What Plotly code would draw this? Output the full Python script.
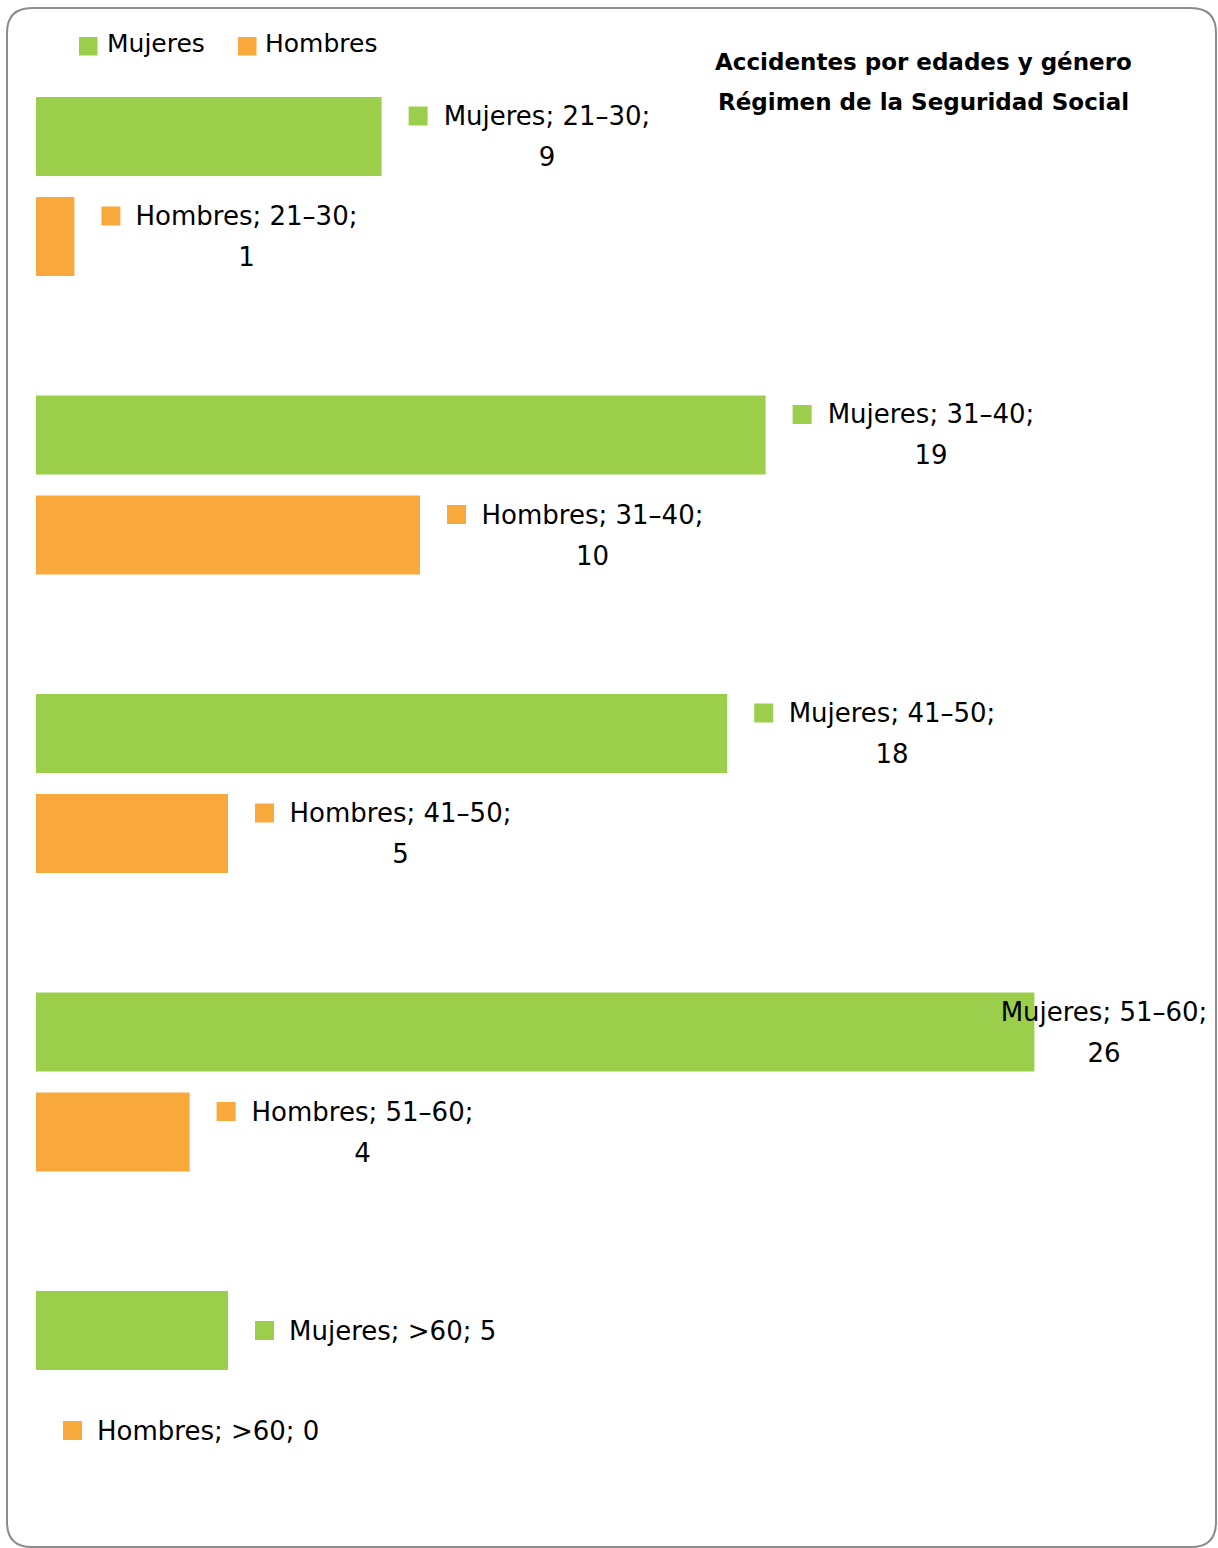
import plotly.graph_objects as go

# ---------------- data ----------------
categories = ["21–30", "31–40", "41–50", "51–60", ">60"]
mujeres = [9, 19, 18, 26, 5]
hombres = [1, 10, 5, 4, 0]
series_names = ["Mujeres", "Hombres"]
title_lines = ["Accidentes por edades y género", "Régimen de la Seguridad Social"]

# ---------------- style ----------------
GREEN = "#9BCF4B"
ORANGE = "#F9A83B"
COLORS = [GREEN, ORANGE]
W, H = 1218, 1548
PLOT_LEFT = 36
X_SCALE = 38.4                      # pixels per unit
XMAX = (W - PLOT_LEFT) / X_SCALE
Y_TOP, Y_BOTTOM = 37.25, 1529.75    # plot area in pixels
FONT = "DejaVu Sans"
LABEL_SIZE = 26
LABEL_W = {"Mujeres": 208, "Hombres": 223}
RIGHT_LIMIT = 1208


def px(x):
    return x / W


def py(y):
    return 1 - y / H


fig = go.Figure()
series_vals = [mujeres, hombres]
for name, vals, col in zip(series_names, series_vals, COLORS):
    fig.add_trace(go.Bar(
        y=categories, x=vals, name=name, orientation="h",
        marker=dict(color=col, line=dict(width=0)),
        showlegend=False,
    ))

# ---------------- data labels ----------------
for s, (name, vals, col) in enumerate(zip(series_names, series_vals, COLORS)):
    trace_shift = 50 if s == 0 else -50
    for i, (cat, v) in enumerate(zip(categories, vals)):
        bar_px = PLOT_LEFT + v * X_SCALE
        wrap = len(cat) > 3
        line1 = f"{name}; {cat};" if wrap else f"{name}; {cat}; {v}"
        text_dx = 61
        if wrap:
            over = bar_px + text_dx + LABEL_W[name] - RIGHT_LIMIT
            if over > 0:
                text_dx -= over
        sq_dx = text_dx - 34
        y_line1 = trace_shift + (20.5 if wrap else 0)
        fig.add_shape(
            type="rect", xref="x", yref="y",
            xsizemode="pixel", ysizemode="pixel",
            xanchor=v, yanchor=i,
            x0=sq_dx, x1=sq_dx + 19, y0=y_line1 - 9.5, y1=y_line1 + 9.5,
            fillcolor=col, line=dict(width=0), layer="above",
        )
        font = dict(family=FONT, size=LABEL_SIZE, color="#000000")
        if wrap:
            for txt, ys in [(line1, y_line1), (str(v), trace_shift - 20.5)]:
                fig.add_annotation(
                    x=v, y=i, xref="x", yref="y", text=txt, showarrow=False,
                    xanchor="left", yanchor="middle", xshift=text_dx, yshift=ys,
                    width=LABEL_W[name], align="center", borderpad=0,
                    borderwidth=0, font=font,
                )
        else:
            fig.add_annotation(
                x=v, y=i, xref="x", yref="y", text=line1, showarrow=False,
                xanchor="left", yanchor="middle", xshift=text_dx, yshift=y_line1,
                borderpad=0, borderwidth=0, font=font,
            )

# ---------------- legend (manual) ----------------
legend_items = [(79, 107), (238, 265)]
for (sq_x, tx), name, col in zip(legend_items, series_names, COLORS):
    fig.add_shape(type="rect", xref="paper", yref="paper",
                  x0=px(sq_x), x1=px(sq_x + 18.5), y0=py(55.5), y1=py(37),
                  fillcolor=col, line=dict(width=0))
    fig.add_annotation(x=px(tx), y=py(44), xref="paper", yref="paper",
                       text=name, showarrow=False, xanchor="left",
                       yanchor="middle", borderpad=0, borderwidth=0,
                       font=dict(family=FONT, size=25, color="#000000"))

# ---------------- title ----------------
for txt, yc in zip(title_lines, [62, 102]):
    fig.add_annotation(x=px(923.5), y=py(yc), xref="paper", yref="paper",
                       text=f"<b>{txt}</b>", showarrow=False, xanchor="center",
                       yanchor="middle", borderpad=0, borderwidth=0,
                       font=dict(family=FONT, size=23, color="#000000"))

# ---------------- rounded border ----------------
L, T, R, B, r = 7, 8, 1216, 1547, 25
path = (
    f"M {px(L + r)},{py(T)} L {px(R - r)},{py(T)} Q {px(R)},{py(T)} {px(R)},{py(T + r)} "
    f"L {px(R)},{py(B - r)} Q {px(R)},{py(B)} {px(R - r)},{py(B)} "
    f"L {px(L + r)},{py(B)} Q {px(L)},{py(B)} {px(L)},{py(B - r)} "
    f"L {px(L)},{py(T + r)} Q {px(L)},{py(T)} {px(L + r)},{py(T)} Z"
)
fig.add_shape(type="path", xref="paper", yref="paper", path=path,
              line=dict(color="#8C8C8C", width=2), fillcolor="rgba(0,0,0,0)")

fig.update_layout(
    width=W, height=H,
    margin=dict(l=0, r=0, t=0, b=0),
    paper_bgcolor="white", plot_bgcolor="white",
    barmode="group", bargap=0.33, bargroupgap=0.21,
    xaxis=dict(range=[0, XMAX], domain=[PLOT_LEFT / W, 1], visible=False,
               showgrid=False, zeroline=False),
    yaxis=dict(type="category", categoryorder="array", categoryarray=categories,
               range=[len(categories) - 0.5, -0.5],
               domain=[(H - Y_BOTTOM) / H, (H - Y_TOP) / H],
               visible=False, showgrid=False, zeroline=False),
    showlegend=False,
    font=dict(family=FONT),
)

fig.write_html(
    "out.html",
    config={"displayModeBar": False},
    post_script="document.body.style.margin='0px';document.body.style.overflow='hidden';",
)
